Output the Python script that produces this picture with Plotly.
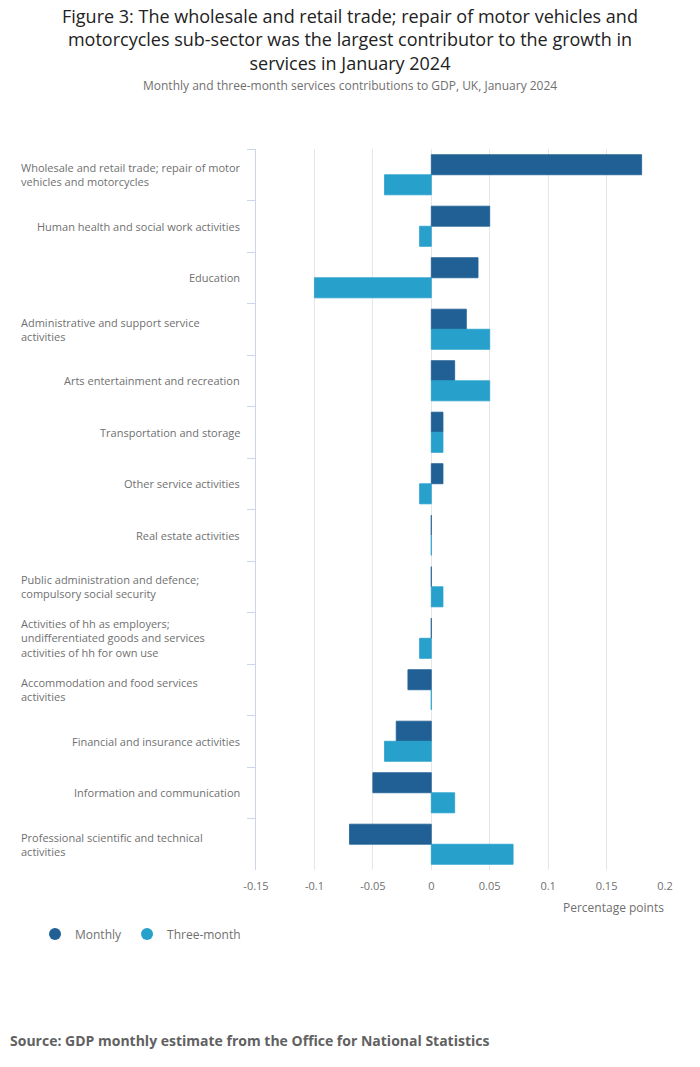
import plotly.graph_objects as go

categories = [
    "Wholesale and retail trade; repair of motor vehicles and motorcycles",
    "Human health and social work activities",
    "Education",
    "Administrative and support service activities",
    "Arts entertainment and recreation",
    "Transportation and storage",
    "Other service activities",
    "Real estate activities",
    "Public administration and defence; compulsory social security",
    "Activities of hh as employers; undifferentiated goods and services activities of hh for own use",
    "Accommodation and food services activities",
    "Financial and insurance activities",
    "Information and communication",
    "Professional scientific and technical activities",
]
tick_labels = [
    "Wholesale and retail trade; repair of motor<br>vehicles and motorcycles",
    "Human health and social work activities",
    "Education",
    "Administrative and support service<br>activities",
    "Arts entertainment and recreation",
    "Transportation and storage",
    "Other service activities",
    "Real estate activities",
    "Public administration and defence;<br>compulsory social security",
    "Activities of hh as employers;<br>undifferentiated goods and services<br>activities of hh for own use",
    "Accommodation and food services<br>activities",
    "Financial and insurance activities",
    "Information and communication",
    "Professional scientific and technical<br>activities",
]
monthly = [0.18, 0.05, 0.04, 0.03, 0.02, 0.01, 0.01, 0.0, 0.0, 0.0, -0.02, -0.03, -0.05, -0.07]
three_month = [-0.04, -0.01, -0.1, 0.05, 0.05, 0.01, -0.01, 0.0, 0.01, -0.01, 0.0, -0.04, 0.02, 0.07]
x_tickvals = [-0.15, -0.1, -0.05, 0, 0.05, 0.1, 0.15, 0.2]
x_ticktext = ["-0.15", "-0.1", "-0.05", "0", "0.05", "0.1", "0.15", "0.2"]
title_lines = [
    "Figure 3: The wholesale and retail trade; repair of motor vehicles and",
    "motorcycles sub-sector was the largest contributor to the growth in",
    "services in January 2024",
]
subtitle = "Monthly and three-month services contributions to GDP, UK, January 2024"
source = "Source: GDP monthly estimate from the Office for National Statistics"

C_MONTHLY = "#206095"
C_THREE = "#27a0cc"
GREY = "#707070"
FONT = "Open Sans"

fig = go.Figure()
fig.add_trace(go.Bar(y=categories, x=monthly, orientation="h", name="Monthly",
                     marker=dict(color=C_MONTHLY, line=dict(color=C_MONTHLY, width=0.8)),
                     showlegend=False))
fig.add_trace(go.Bar(y=categories, x=three_month, orientation="h", name="Three-month",
                     marker=dict(color=C_THREE, line=dict(color=C_THREE, width=0.8)),
                     showlegend=False))
# legend entries with circle symbols
fig.add_trace(go.Scatter(x=[None], y=[None], mode="markers", name="Monthly",
                         marker=dict(color=C_MONTHLY, size=13, symbol="circle")))
fig.add_trace(go.Scatter(x=[None], y=[None], mode="markers", name="Three-month",
                         marker=dict(color=C_THREE, size=13, symbol="circle")))

# page has an 8px body margin; work in screen pixels and convert
OFF = 8
W, H = 700 - OFF, 1067 - OFF
PL, PR, PT, PB = 256, 665, 149, 870  # plot area in screen px
L = PL - OFF
R = W - (PR - OFF)
T = PT - OFF
B = H - (PB - OFF)
pw = PR - PL
ph = PB - PT

def px_x(p):
    return (p - PL) / pw

def px_y(p):
    return (PB - p) / ph

annotations = []
for cat, lab in zip(categories, tick_labels):
    if "<br>" in lab:
        annotations.append(dict(x=px_x(19), xref="paper", y=cat, yref="y", text=lab,
                                xanchor="left", yanchor="middle", align="left",
                                showarrow=False, font=dict(size=11, color=GREY, family=FONT)))
    else:
        annotations.append(dict(x=px_x(242), xref="paper", y=cat, yref="y", text=lab,
                                xanchor="right", yanchor="middle", align="right",
                                showarrow=False, font=dict(size=11, color=GREY, family=FONT)))
annotations.append(dict(x=px_x(666), xref="paper", y=px_y(907), yref="paper", text="Percentage points",
                        xanchor="right", yanchor="middle", showarrow=False,
                        font=dict(size=12, color=GREY, family=FONT)))
annotations.append(dict(x=px_x(8), xref="paper", y=px_y(1040), yref="paper",
                        text="<b>" + source + "</b>",
                        xanchor="left", yanchor="middle", showarrow=False,
                        font=dict(size=14, color="#616161", family=FONT)))
annotations.append(dict(x=px_x(350), xref="paper", y=px_y(39), yref="paper",
                        text="<br>".join(title_lines),
                        xanchor="center", yanchor="middle", align="center", showarrow=False,
                        font=dict(size=18, color="#222222", family=FONT)))
annotations.append(dict(x=px_x(350), xref="paper", y=px_y(85), yref="paper", text=subtitle,
                        xanchor="center", yanchor="middle", showarrow=False,
                        font=dict(size=12, color=GREY, family=FONT)))

fig.update_layout(
    width=W, height=H,
    margin=dict(l=L, r=R, t=T, b=B),
    paper_bgcolor="white", plot_bgcolor="white",
    font=dict(family=FONT, color=GREY, size=11),
    barmode="group", bargap=0.22, bargroupgap=0,
    xaxis=dict(range=[-0.15, 0.2], tickvals=x_tickvals, ticktext=x_ticktext,
               showgrid=True, gridcolor="#e6e6e6", gridwidth=1, zeroline=False,
               showline=False, ticks="", ticklabelstandoff=8,
               tickfont=dict(size=11, color=GREY, family=FONT), fixedrange=True),
    yaxis=dict(type="category", categoryorder="array", categoryarray=categories,
               range=[13.5, -0.5], showticklabels=False, ticks="outside", tickson="boundaries",
               ticklen=8, tickcolor="#ccd6eb", tickwidth=1, showline=True, linecolor="#ccd6eb",
               linewidth=1, showgrid=False, zeroline=False),
    legend=dict(orientation="h", x=px_x(35), xanchor="left", y=px_y(934), yanchor="middle",
                font=dict(size=12, color=GREY, family=FONT), itemsizing="constant",
                bgcolor="rgba(0,0,0,0)"),
    annotations=annotations,
)

fig.write_html("out.html")
